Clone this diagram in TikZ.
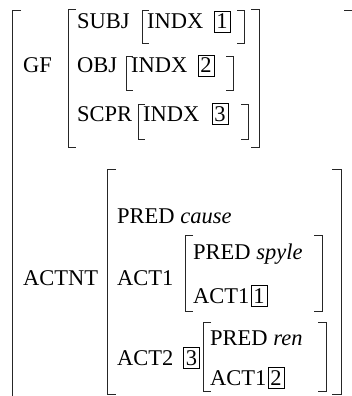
\documentclass[tikz,border=0pt]{standalone}
\usepackage{fontspec}
\setmainfont{Liberation Serif}
% square brackets of an attribute-value matrix: x, top, bottom, tick length
\newcommand\avmL[4]{\draw[brk] ({#1+#4},#2) -- (#1,#2) -- (#1,#3) -- ({#1+#4},#3);}
\newcommand\avmR[4]{\draw[brk] ({#1-#4},#2) -- (#1,#2) -- (#1,#3) -- ({#1-#4},#3);}
\begin{document}
\begin{tikzpicture}[x=1pt,y=-1pt,
  txt/.style={anchor=base west, inner sep=0pt, font=\fontsize{22.5}{27}\selectfont},
  tag/.style={txt, draw, line width=0.8pt, inner xsep=2.4pt, inner ysep=3.2pt},
  brk/.style={line width=0.8pt, black!85}]
\useasboundingbox (0,0) rectangle (352,396);
\clip (0,0) rectangle (352,396);

% outermost matrix
\avmL{12}{10}{420}{9}
\avmR{353}{10}{420}{9}

% ---- GF ----
\node[txt] (gf) at (23,73) {GF};
\avmL{68}{9}{147}{8}
\avmR{259}{9}{147}{8}

\node[txt] (subj) at (77,29) {SUBJ};
\avmL{142}{10}{43}{7}
\node[txt] (indx1) at (147,29) {INDX};
\node[tag, xshift=10pt] (t1) at (indx1.base east) {1};
\avmR{244}{10}{43}{7}

\node[txt] (obj) at (77,73) {OBJ};
\avmL{126}{56}{90}{7}
\node[txt] (indx2) at (131,73) {INDX};
\node[tag, xshift=10pt] (t2) at (indx2.base east) {2};
\avmR{233}{56}{90}{7}

\node[txt] (scpr) at (77,121) {SCPR};
\avmL{138}{104}{139}{7}
\node[txt] (indx3) at (143,121) {INDX};
\node[tag, xshift=12pt] (t3) at (indx3.base east) {3};
\avmR{248}{104}{139}{7}

% ---- ACTNT ----
\node[txt] (actnt) at (23,285) {ACTNT};
\avmL{107}{169}{394}{9}
\avmR{341}{169}{394}{9}

\node[txt] (pred0) at (117,223) {PRED \textit{cause}};

\node[txt] (act1) at (117,285) {ACT1};
\avmL{185}{235}{311}{8}
\node[txt] (pred1) at (193,259) {PRED \textit{spyle}};
\node[txt] (act1a) at (193,303) {ACT1};
\node[tag, xshift=1pt] (t4) at (act1a.base east) {1};
\avmR{322}{235}{311}{8}

\node[txt] (act2) at (117,365) {ACT2};
\node[tag] (t5) at (183,365) {3};
\avmL{203}{322}{391}{8}
\node[txt] (pred2) at (210,345) {PRED \textit{ren}};
\node[txt] (act1b) at (210,385) {ACT1};
\node[tag, xshift=1pt] (t6) at (act1b.base east) {2};
\avmR{326}{322}{391}{8}
\end{tikzpicture}
\end{document}
